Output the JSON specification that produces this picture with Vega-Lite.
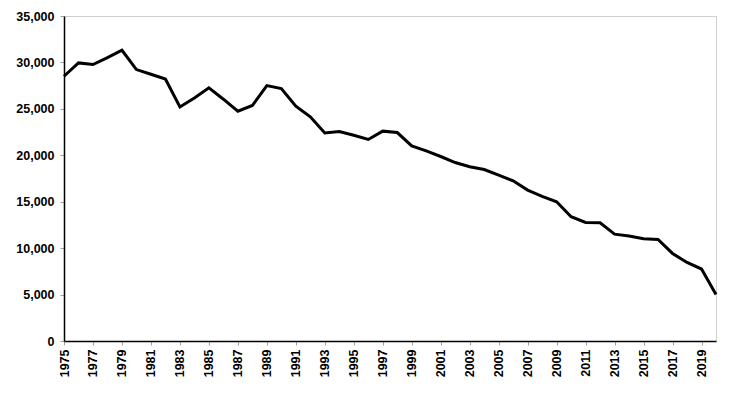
{
  "$schema": "https://vega.github.io/schema/vega-lite/v6.json",
  "width": 652,
  "height": 325,
  "autosize": {"type": "none"},
  "padding": {"left": 64, "top": 16, "right": 21, "bottom": 57},
  "background": "white",
  "config": {
    "view": {"stroke": "#d0d0d0", "strokeWidth": 1},
    "axis": {
      "grid": false,
      "domainColor": "black",
      "domainWidth": 1.5,
      "tickColor": "#a0a0a0",
      "tickSize": 4,
      "labelFont": "Liberation Sans",
      "labelFontWeight": "bold",
      "labelFontSize": 12.5,
      "labelColor": "black",
      "title": null
    }
  },
  "data": {
    "values": [
      {"year": 1975, "value": 28510},
      {"year": 1976, "value": 29950},
      {"year": 1977, "value": 29770},
      {"year": 1978, "value": 30520},
      {"year": 1979, "value": 31310},
      {"year": 1980, "value": 29230},
      {"year": 1981, "value": 28730},
      {"year": 1982, "value": 28220},
      {"year": 1983, "value": 25210},
      {"year": 1984, "value": 26180},
      {"year": 1985, "value": 27260},
      {"year": 1986, "value": 26040},
      {"year": 1987, "value": 24750},
      {"year": 1988, "value": 25360},
      {"year": 1989, "value": 27510},
      {"year": 1990, "value": 27190},
      {"year": 1991, "value": 25290},
      {"year": 1992, "value": 24140},
      {"year": 1993, "value": 22410},
      {"year": 1994, "value": 22560},
      {"year": 1995, "value": 22160},
      {"year": 1996, "value": 21700},
      {"year": 1997, "value": 22600},
      {"year": 1998, "value": 22450},
      {"year": 1999, "value": 21020},
      {"year": 2000, "value": 20480},
      {"year": 2001, "value": 19870},
      {"year": 2002, "value": 19220},
      {"year": 2003, "value": 18760},
      {"year": 2004, "value": 18470},
      {"year": 2005, "value": 17860},
      {"year": 2006, "value": 17250},
      {"year": 2007, "value": 16250},
      {"year": 2008, "value": 15570},
      {"year": 2009, "value": 14990},
      {"year": 2010, "value": 13380},
      {"year": 2011, "value": 12770},
      {"year": 2012, "value": 12730},
      {"year": 2013, "value": 11510},
      {"year": 2014, "value": 11300},
      {"year": 2015, "value": 11010},
      {"year": 2016, "value": 10940},
      {"year": 2017, "value": 9430},
      {"year": 2018, "value": 8460},
      {"year": 2019, "value": 7750},
      {"year": 2020, "value": 5020}
    ]
  },
  "mark": {"type": "line", "color": "black", "strokeWidth": 3, "strokeJoin": "miter"},
  "encoding": {
    "x": {
      "field": "year",
      "type": "quantitative",
      "scale": {"domain": [1975, 2020], "nice": false, "zero": false},
      "axis": {
        "values": [1975, 1977, 1979, 1981, 1983, 1985, 1987, 1989, 1991, 1993, 1995, 1997, 1999, 2001, 2003, 2005, 2007, 2009, 2011, 2013, 2015, 2017, 2019],
        "format": "d",
        "labelAngle": -90,
        "labelPadding": 4,
        "labelOverlap": false,
        "labelFlush": false
      }
    },
    "y": {
      "field": "value",
      "type": "quantitative",
      "scale": {"domain": [0, 35000], "nice": false},
      "axis": {
        "values": [0, 5000, 10000, 15000, 20000, 25000, 30000, 35000],
        "format": ",d",
        "labelPadding": 6,
        "labelOverlap": false,
        "labelFlush": false
      }
    }
  }
}
